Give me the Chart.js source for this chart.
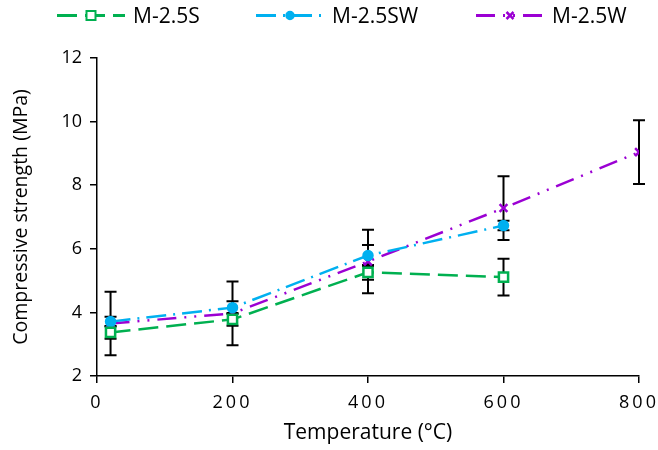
<!DOCTYPE html>
<html>
<head>
<meta charset="utf-8">
<script src="https://cdn.jsdelivr.net/npm/chart.js@4.4.1/dist/chart.umd.min.js"></script>
<style>
  html, body { margin: 0; padding: 0; background: #fff; }
  #wrap { position: relative; width: 658px; height: 450px; }
  #legend { position: absolute; left: 0; top: 0; width: 658px; height: 38px; font-family: "Open Sans", sans-serif; font-size: 21px; color: #000; }
  .item { position: absolute; top: 1px; display: flex; align-items: center; }
  .item svg { margin-right: 8px; }
</style>
</head>
<body>
<div id="wrap">
  <canvas id="chart" width="658" height="450"></canvas>
  <div id="legend"></div>
</div>
<script>
const temps = [20, 200, 400, 600, 800];
const sValues = [3.37, 3.78, 5.26, 5.11];
const sErrors = [0.2, 0.2, 0.23, 0.58];
const swValues = [3.71, 4.15, 5.79, 6.73];
const swErrors = [0.15, 0.2, 0.33, 0.15];
const wValues = [3.65, 3.97, 5.6, 7.28, 9.04];
const wErrors = [1.0, 1.0, 1.0, 1.0, 1.0];
const xTicks = [0, 200, 400, 600, 800];
const yTicks = [2, 4, 6, 8, 10, 12];

const seriesNames = ['M-2.5S', 'M-2.5SW', 'M-2.5W'];
const colors = ['#00B050', '#00B0F0', '#9B00D3'];
const fills = ['#ffffff', '#00B0F0', '#9B00D3'];
const dashes = [[20, 8], [20, 7, 2, 7], [19, 8, 2, 8, 2, 8]];
const markers = ['rect', 'circle', 'crossRot'];
const markerSizes = [6.5, 4.5, 5.5];

function points(values) {
  return values.map((v, i) => ({ x: temps[i], y: v }));
}

const fontFamily = '"Open Sans", sans-serif';

const errorBars = {
  id: 'errorBars',
  beforeDatasetsDraw(chart) {
    const ctx = chart.ctx;
    const x = chart.scales.x;
    const y = chart.scales.y;
    ctx.save();
    ctx.strokeStyle = '#000';
    ctx.lineWidth = 2;
    chart.data.datasets.forEach(ds => {
      ds.data.forEach((p, i) => {
        const err = ds.errors[i];
        const px = x.getPixelForValue(p.x);
        const top = y.getPixelForValue(p.y + err);
        const bot = y.getPixelForValue(p.y - err);
        ctx.beginPath();
        ctx.moveTo(px, top);
        ctx.lineTo(px, bot);
        ctx.moveTo(px - 6, top);
        ctx.lineTo(px + 6, top);
        ctx.moveTo(px - 6, bot);
        ctx.lineTo(px + 6, bot);
        ctx.stroke();
      });
    });
    ctx.restore();
  },
  // x tick labels (z: 1) are drawn after the datasets, give them the wide spacing
  afterDatasetsDraw(chart) {
    chart.ctx.letterSpacing = '3px';
  },
  afterDraw(chart) {
    chart.ctx.letterSpacing = '0px';
  }
};

const allValues = [sValues, swValues, wValues];
const allErrors = [sErrors, swErrors, wErrors];

const datasets = seriesNames.map((name, k) => ({
  label: name,
  data: points(allValues[k]),
  errors: allErrors[k],
  borderColor: colors[k],
  backgroundColor: colors[k],
  borderWidth: 2.5,
  borderDash: dashes[k],
  pointStyle: markers[k],
  pointRadius: markerSizes[k],
  pointBorderWidth: 2.5,
  pointBackgroundColor: fills[k],
  pointBorderColor: colors[k],
  tension: 0
}));

new Chart(document.getElementById('chart'), {
  type: 'line',
  data: { datasets },
  plugins: [errorBars],
  options: {
    responsive: false,
    animation: false,
    layout: { padding: { top: 58, right: 19, left: 0, bottom: 0 } },
    plugins: { legend: { display: false }, tooltip: { enabled: false } },
    scales: {
      x: {
        type: 'linear',
        min: 0,
        max: 800,
        afterBuildTicks(scale) { scale.ticks = xTicks.map(v => ({ value: v })); },
        afterFit(scale) {
          scale.height = 74;
          scale.paddingLeft = 0;
          scale.paddingRight = 0;
        },
        grid: { drawOnChartArea: false, drawTicks: true, tickLength: 7, color: '#000', lineWidth: 1.5 },
        border: { color: '#000', width: 1.5 },
        ticks: { color: '#000', font: { family: fontFamily, size: 18 }, padding: 9, z: 1, maxRotation: 0 },
        title: { display: true, text: 'Temperature (°C)', color: '#000', font: { family: fontFamily, size: 21 }, padding: { top: 0 } }
      },
      y: {
        min: 2,
        max: 12,
        afterBuildTicks(scale) { scale.ticks = yTicks.map(v => ({ value: v })); },
        afterFit(scale) { scale.width = 97; },
        grid: { drawOnChartArea: false, drawTicks: true, tickLength: 7, color: '#000', lineWidth: 1.5 },
        border: { color: '#000', width: 1.5 },
        ticks: { color: '#000', font: { family: fontFamily, size: 18 }, padding: 8, z: 0 },
        title: { display: true, text: 'Compressive strength (MPa)', color: '#000', font: { family: fontFamily, size: 19.5 }, padding: { top: 10 } }
      }
    }
  }
});

// legend built as HTML with small svg symbols
const legendLeft = [57, 256, 476];
const legend = document.getElementById('legend');
seriesNames.forEach((name, k) => {
  const item = document.createElement('div');
  item.className = 'item';
  item.style.left = legendLeft[k] + 'px';
  let mark = '';
  if (markers[k] === 'rect') {
    mark = `<rect x="29.5" y="8" width="9" height="9" fill="#fff" stroke="${colors[k]}" stroke-width="2"/>`;
  } else if (markers[k] === 'circle') {
    mark = `<circle cx="34" cy="12.5" r="4" fill="${colors[k]}" stroke="${colors[k]}" stroke-width="1.5"/>`;
  } else {
    mark = `<path d="M30.5 9 L37.5 16 M37.5 9 L30.5 16" stroke="${colors[k]}" stroke-width="2.5"/>`;
  }
  item.innerHTML =
    `<svg width="68" height="25"><line x1="0" y1="12.5" x2="68" y2="12.5" stroke="${colors[k]}" stroke-width="3" stroke-dasharray="${dashes[k].join(' ')}"/>${mark}</svg><span>${name}</span>`;
  legend.appendChild(item);
});
</script>
</body>
</html>
